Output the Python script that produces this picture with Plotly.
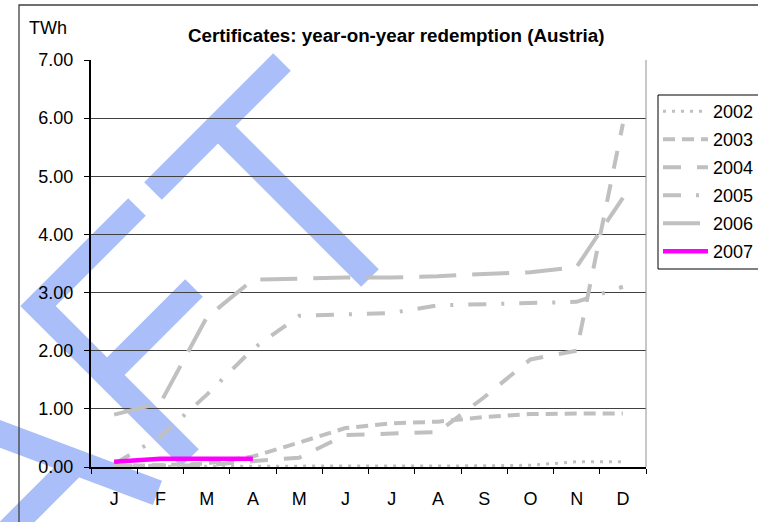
import plotly.graph_objects as go

# ---- data ----
months = ["J", "F", "M", "A", "M", "J", "J", "A", "S", "O", "N", "D"]
years = ["2002", "2003", "2004", "2005", "2006", "2007"]
y2002 = [0.01, 0.01, 0.01, 0.01, 0.01, 0.01, 0.02, 0.02, 0.02, 0.03, 0.09, 0.09]
y2003 = [0.02, 0.03, 0.06, 0.18, 0.42, 0.67, 0.75, 0.78, 0.86, 0.91, 0.92, 0.92]
y2004 = [0.02, 0.02, 0.03, 0.10, 0.16, 0.55, 0.57, 0.60, 1.20, 1.85, 2.00, 5.90]
y2005 = [0.05, 0.52, 1.24, 2.03, 2.60, 2.63, 2.65, 2.78, 2.80, 2.81, 2.84, 3.10]
y2006 = [0.90, 1.10, 2.57, 3.22, 3.24, 3.26, 3.26, 3.28, 3.32, 3.35, 3.44, 4.63]
y2007 = [0.09, 0.14, 0.14, 0.14]
series = [y2002, y2003, y2004, y2005, y2006, y2007]

W, H = 758, 522
L, R, T, B = 91, 646, 60, 467  # plot area in px

GRAY = "#C0C0C0"
styles = [
    dict(color=GRAY, width=3, dash="3px,6px"),
    dict(color=GRAY, width=4, dash="12px,7px"),
    dict(color=GRAY, width=4, dash="18px,16px"),
    dict(color=GRAY, width=4, dash="18px,15px,3px,15px"),
    dict(color=GRAY, width=4, dash="37px,16px"),
    dict(color="#FF00FF", width=4.5, dash="solid"),
]

FONT = "Arial, 'Liberation Sans', sans-serif"

fig = go.Figure()
for i, (name, vals) in enumerate(zip(years, series)):
    fig.add_trace(go.Scatter(
        x=list(range(len(vals))), y=vals, mode="lines", name=name,
        line=styles[i], hoverinfo="skip", legendgroup=name,
    ))


def px(x, y):
    return (x - L) / (R - L), (B - y) / (B - T)


def poly(points):
    pts = [px(x, y) for x, y in points]
    return "M" + " L".join(f"{a:.5f},{b:.5f}" for a, b in pts) + " Z"


BLUE = "#AABFF9"
wm = [
    # long diagonal (upper part)
    [(273.2, 53.2), (290.8, 70.8), (161.8, 199.8), (144.2, 182.2)],
    # branch down-right
    [(226.8, 117.2), (378.8, 269.2), (361.2, 286.8), (209.2, 134.8)],
    # "<" shape
    [(128.2, 198.2), (20.3, 306.0), (181.2, 466.8), (198.8, 449.2), (55.7, 306.0), (145.8, 215.8)],
    # inner diagonal
    [(185.2, 279.2), (202.8, 296.8), (115.8, 383.8), (98.2, 366.2)],
    # lower shallow band
    [(-20, 412.5), (162, 480.7), (152.9, 505.0), (-20, 440.3)],
    # bottom-left band
    [(-18.8, 540.2), (63.2, 458.2), (80.8, 475.8), (-1.2, 557.8)],
]
shapes = []
for p in wm:
    shapes.append(dict(type="path", xref="paper", yref="paper", path=poly(p),
                       fillcolor=BLUE, line=dict(width=0), layer="below"))

# outer chart border
x0, y0 = px(19, 5)
x1, y1 = px(800, 560)
shapes.append(dict(type="rect", xref="paper", yref="paper", x0=x0, y0=y1, x1=x1, y1=y0,
                   line=dict(color="#404040", width=1.3), layer="below"))
# right plot border
shapes.append(dict(type="line", xref="paper", yref="paper", x0=1, x1=1, y0=0, y1=1,
                   line=dict(color="#909090", width=1), layer="above"))
# legend box
lbx0, lby0 = px(658, 95)
lbx1, lby1 = px(790, 269)
shapes.append(dict(type="rect", xref="paper", yref="paper", x0=lbx0, y0=lby1, x1=lbx1, y1=lby0,
                   line=dict(color="black", width=1), fillcolor="white", layer="below"))

annotations = [
    dict(text="<b>Certificates: year-on-year redemption (Austria)</b>", xref="paper", yref="paper",
         x=px(396, 35)[0], y=px(396, 35)[1], xanchor="center", yanchor="middle", showarrow=False,
         font=dict(size=18.8, color="black", family=FONT)),
    dict(text="TWh", xref="paper", yref="paper", x=px(48, 28)[0], y=px(48, 28)[1],
         xanchor="center", yanchor="middle", showarrow=False,
         font=dict(size=18, color="black", family=FONT)),
]

lx, ly = px(658, 93)
fig.update_layout(
    width=W, height=H,
    margin=dict(l=L, r=W - R, t=T, b=H - B, pad=0, autoexpand=False),
    paper_bgcolor="white", plot_bgcolor="rgba(0,0,0,0)",
    font=dict(family=FONT, size=18, color="black"),
    showlegend=True,
    legend=dict(x=lx, y=ly, xanchor="left", yanchor="top", borderwidth=0,
                bgcolor="rgba(0,0,0,0)", font=dict(size=18, family=FONT), tracegroupgap=1.6,
                traceorder="grouped", itemwidth=45),
    shapes=shapes, annotations=annotations,
    xaxis=dict(range=[-0.5, 11.5], tickmode="array", tickvals=list(range(12)), ticktext=months,
               ticks="", showgrid=False, zeroline=False, showline=True, linecolor="black", linewidth=2,
               tickfont=dict(size=18), fixedrange=True, ticklabelstandoff=14,
               minor=dict(tickmode="array", tickvals=[i - 0.5 for i in range(13)], ticks="outside",
                          ticklen=5, tickcolor="black", tickwidth=1, showgrid=False)),
    yaxis=dict(range=[0, 7], dtick=1, tick0=0, tickformat=".2f", ticks="outside", ticklen=5,
               tickcolor="black", tickwidth=1, showgrid=True, gridcolor="#404040", gridwidth=1,
               zeroline=False, showline=True, linecolor="black", linewidth=2,
               tickfont=dict(size=18), fixedrange=True, ticklabelstandoff=7),
)

fig.write_html("out.html", config={"displayModeBar": False},
               post_script="document.body.style.margin='0';document.body.style.overflow='hidden';")
